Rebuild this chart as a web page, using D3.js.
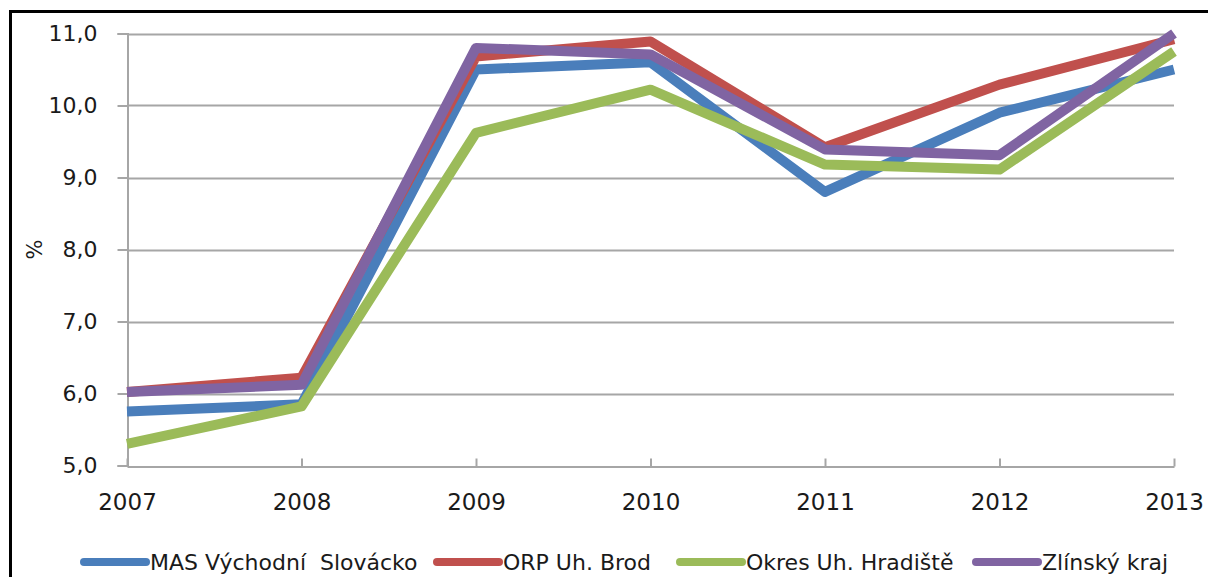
<!DOCTYPE html>
<html>
<head>
<meta charset="utf-8">
<script src="https://cdn.jsdelivr.net/npm/d3@7"></script>
<style>
  body { margin: 0; background: #fff; }
  text { font-family: "DejaVu Sans", Verdana, sans-serif; fill: #1a1a1a; }
</style>
</head>
<body>
<svg id="chart" width="1208" height="578"></svg>
<script>
// data
var years = [2007, 2008, 2009, 2010, 2011, 2012, 2013];
var yTicks = [5, 6, 7, 8, 9, 10, 11];
var seriesNames = ["MAS Východní  Slovácko", "ORP Uh. Brod", "Okres Uh. Hradiště", "Zlínský kraj"];
var seriesColors = ["#4a7ebb", "#c0504d", "#9bbb59", "#8064a2"];
var masVychodni = [5.75, 5.85, 10.5, 10.6, 8.8, 9.9, 10.5];
var orpBrod = [6.02, 6.22, 10.68, 10.89, 9.42, 10.29, 10.92];
var okresHradiste = [5.3, 5.82, 9.62, 10.22, 9.18, 9.11, 10.75];
var zlinskyKraj = [6.02, 6.12, 10.8, 10.71, 9.39, 9.31, 11.0];
var allSeries = [masVychodni, orpBrod, okresHradiste, zlinskyKraj];

var svg = d3.select("#chart");

// outer frame (top and left edges visible)
svg.append("path")
    .attr("d", "M10.5,577 L10.5,11.5 L1208,11.5")
    .attr("fill", "none")
    .attr("stroke", "#000")
    .attr("stroke-width", 3);

var x = d3.scaleLinear().domain([2007, 2013]).range([127, 1174]);
var y = d3.scaleLinear().domain([5, 11]).range([465.5, 33.5]);

// gridlines
svg.append("g").selectAll("line.grid")
    .data(yTicks.slice(1))
    .enter().append("line")
    .attr("class", "grid")
    .attr("x1", x(2007)).attr("x2", x(2013))
    .attr("y1", d => Math.round(y(d)) + 0.5)
    .attr("y2", d => Math.round(y(d)) + 0.5)
    .attr("stroke", "#a6a6a6")
    .attr("stroke-width", 2);

// y axis
var yAxis = svg.append("g")
    .attr("transform", "translate(" + (x(2007) + 0.5) + ",0)")
    .call(d3.axisLeft(y).tickValues(yTicks).tickSize(10).tickPadding(20)
        .tickFormat(d => d3.format(".1f")(d).replace(".", ",")));
yAxis.select(".domain").attr("stroke", "#a6a6a6").attr("stroke-width", 2);
yAxis.selectAll(".tick line").attr("stroke", "#a6a6a6").attr("stroke-width", 2);
yAxis.selectAll(".tick text")
    .style("font-family", "DejaVu Sans")
    .attr("font-size", 22)
    .attr("fill", "#1a1a1a");

// x axis
var xAxis = svg.append("g")
    .attr("transform", "translate(0," + (Math.round(y(5)) + 0.5) + ")")
    .call(d3.axisBottom(x).tickValues(years).tickSizeInner(-8).tickSizeOuter(0).tickPadding(27)
        .tickFormat(d3.format("d")));
xAxis.select(".domain").attr("stroke", "#a6a6a6").attr("stroke-width", 2);
xAxis.selectAll(".tick line").attr("stroke", "#a6a6a6").attr("stroke-width", 2);
xAxis.selectAll(".tick text")
    .style("font-family", "DejaVu Sans")
    .attr("font-size", 23)
    .attr("fill", "#1a1a1a");

// y axis title
svg.append("text")
    .attr("transform", "translate(42," + y(8) + ") rotate(-90)")
    .attr("text-anchor", "middle")
    .attr("font-size", 21)
    .text("%");

// lines
var line = d3.line()
    .x((d, i) => x(years[i]))
    .y(d => y(d));

svg.append("g").selectAll("path.series")
    .data(allSeries)
    .enter().append("path")
    .attr("class", "series")
    .attr("d", line)
    .attr("fill", "none")
    .attr("stroke", (d, i) => seriesColors[i])
    .attr("stroke-width", 10)
    .attr("stroke-linejoin", "round");

// legend
var legendX = [84, 437, 680, 976];
var legend = svg.append("g").selectAll("g.leg")
    .data(seriesNames)
    .enter().append("g")
    .attr("class", "leg")
    .attr("transform", (d, i) => "translate(" + legendX[i] + ",562)");

legend.append("line")
    .attr("x1", 0).attr("x2", 62)
    .attr("y1", 0).attr("y2", 0)
    .attr("stroke", (d, i) => seriesColors[i])
    .attr("stroke-width", 8)
    .attr("stroke-linecap", "round");

legend.append("text")
    .attr("x", 66)
    .attr("dy", "0.35em")
    .attr("font-size", 22)
    .attr("xml:space", "preserve")
    .style("white-space", "pre")
    .text(d => d);
</script>
</body>
</html>
